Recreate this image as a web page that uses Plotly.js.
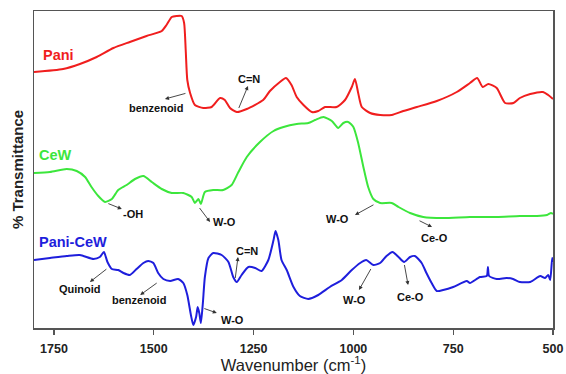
<!DOCTYPE html>
<html>
<head>
<meta charset="utf-8">
<script src="https://cdn.plot.ly/plotly-3.0.1.min.js"></script>
<style>html,body{margin:0;padding:0;background:#fff;}#chart{width:566px;height:374px;}</style>
</head>
<body>
<div id="chart"></div>
<script>
// Wavenumber (cm-1) and offset % transmittance (arbitrary units)
const paniWn = [1800,1727,1685,1643,1601,1560,1518,1480,1468,1455,1443,1430,1424,1420,1416,1409,1397,1376,1355,1334,1322,1309,1292,1267,1226,1209,1184,1169,1155,1142,1125,1104,1088,1071,1042,1021,1004,996,988,979,958,933,904,875,841,791,741,708,690,676,662,641,620,599,583,557,525,512,500];
const paniT  = [256,259,264,271,280,286,292,297,303,311,312,312,305,278,248,235,223,220,221,230,228,220,216,219,228,237,246,250,243,231,223,216,217,221,221,228,241,249,235,221,215,213,213,217,221,227,236,245,250,241,244,240,225,225,230,234,236,233,229];

const cewWn = [1800,1760,1718,1693,1672,1656,1639,1622,1605,1589,1568,1547,1526,1505,1480,1455,1426,1405,1397,1388,1382,1372,1351,1326,1305,1288,1267,1234,1200,1175,1142,1113,1096,1075,1054,1038,1025,1013,1000,988,975,963,950,933,904,887,858,825,775,708,641,583,540,515,505,500];
const cewT  = [155,156,159,157,151,141,132,126,129,138,143,149,152,146,139,135,135,131,125,129,124,136,138,138,143,156,171,186,197,201,204,205,208,211,207,200,205,206,201,185,161,141,129,125,125,121,115,111,110,111,111,112,112,113,115,114];

const pcWn = [1800,1760,1718,1685,1651,1635,1625,1616,1605,1589,1576,1560,1543,1526,1514,1501,1489,1476,1459,1439,1426,1416,1407,1401,1394,1390,1386,1382,1377,1372,1363,1351,1330,1313,1301,1292,1280,1263,1246,1230,1213,1200,1195,1188,1180,1167,1150,1134,1113,1088,1059,1029,1004,983,968,950,933,917,902,887,873,858,846,829,817,804,791,775,750,716,708,683,666,663,660,641,616,600,583,557,532,520,512,507,502,500];
const pcT  = [68,70,72,73,69,71,76,66,59,58,55,53,59,65,67,65,55,49,47,49,45,33,13,3,11,21,15,5,25,51,70,75,73,66,51,46,53,61,60,57,68,88,97,88,68,58,41,32,29,33,41,48,58,65,68,63,65,72,76,71,66,71,72,65,55,45,37,38,41,47,45,51,52,61,52,49,50,49,46,46,52,50,53,48,70,66];

const seriesNames = ['Pani','CeW','Pani-CeW'];
const seriesColors = ['#f01e1e','#3ce63c','#1e1edc'];
const xTicks = [1750,1500,1250,1000,750,500];

const traces = [
  {x: paniWn, y: paniT},
  {x: cewWn, y: cewT},
  {x: pcWn, y: pcT}
].map((d,i)=>({
  x: d.x, y: d.y, type:'scatter', mode:'lines', name: seriesNames[i],
  line:{color: seriesColors[i], width:2, shape:'spline', smoothing:0.6},
  hoverinfo:'skip'
}));

const bold = {family:'"Liberation Sans", Arial, sans-serif', size:11, color:'#111'};
function lbl(text,x,y){ return {text:'<b>'+text+'</b>', x:x, y:y, xref:'x', yref:'y', showarrow:false, font:bold}; }
function arr(x,y,ax,ay){ return {text:' ', x:x, y:y, xref:'x', yref:'y', ax:ax, ay:ay, showarrow:true, arrowhead:2, arrowsize:0.9, arrowwidth:0.9, arrowcolor:'#333', standoff:0, startstandoff:0, font:{size:1}}; }
function name(i,x,y){ return {text:'<b>'+seriesNames[i]+'</b>', x:x, y:y, xref:'x', yref:'y', xanchor:'left', showarrow:false, font:{family:'"Liberation Sans", Arial, sans-serif', size:14.5, color:seriesColors[i]}}; }

const annotations = [
  name(0,1782,273), name(1,1792,173), name(2,1792,86),
  lbl('benzenoid',1494,220), arr(1472,229,22,-6),
  lbl('C=N',1261,249), arr(1264,242,-10,24),
  lbl('-OH',1552,114), arr(1580,119,-15,-6),
  lbl('W-O',1322,106), arr(1359,106,-12,-16),
  lbl('W-O',1041,109), arr(996,113,20,-11),
  lbl('Ce-O',798,90), arr(803,101,-14,-7),
  lbl('Quinoid',1685,39), arr(1660,46,18,-14),
  lbl('benzenoid',1537,28), arr(1534,33,18,-13),
  lbl('W-O',1304,8), arr(1342,15,-14,-5),
  lbl('C=N',1266,77), arr(1289,71,-3,23),
  lbl('W-O',996,28), arr(986,38,13,-23),
  lbl('Ce-O',856,31), arr(863,43,-4,-22)
];

const layout = {
  width:566, height:374,
  margin:{l:34, r:13, t:11, b:46},
  paper_bgcolor:'#ffffff', plot_bgcolor:'#ffffff',
  showlegend:false,
  xaxis:{
    range:[1800,500], autorange:false,
    tickvals:xTicks, ticktext:xTicks.map(String),
    ticks:'outside', ticklen:5, tickwidth:1.2, tickcolor:'#555',
    ticklabelstandoff:3,
    showline:true, linecolor:'#555', linewidth:1.5, mirror:true,
    showgrid:false, zeroline:false,
    tickfont:{family:'"Liberation Sans", Arial, sans-serif', size:12.5, color:'#222', weight:'bold'},
    title:{text:'Wavenumber (cm<sup>-1</sup>)', standoff:0, font:{family:'"Liberation Sans", Arial, sans-serif', size:16.5, color:'#222'}}
  },
  yaxis:{
    range:[0,317], autorange:false,
    showticklabels:false, ticks:'',
    showline:true, linecolor:'#555', linewidth:1.5, mirror:true,
    showgrid:false, zeroline:false,
    title:{text:'<b>% Transmittance</b>', standoff:5, font:{family:'"Liberation Sans", Arial, sans-serif', size:15, color:'#222'}}
  },
  annotations: annotations
};

Plotly.newPlot('chart', traces, layout, {staticPlot:true, displayModeBar:false});
</script>
</body>
</html>
